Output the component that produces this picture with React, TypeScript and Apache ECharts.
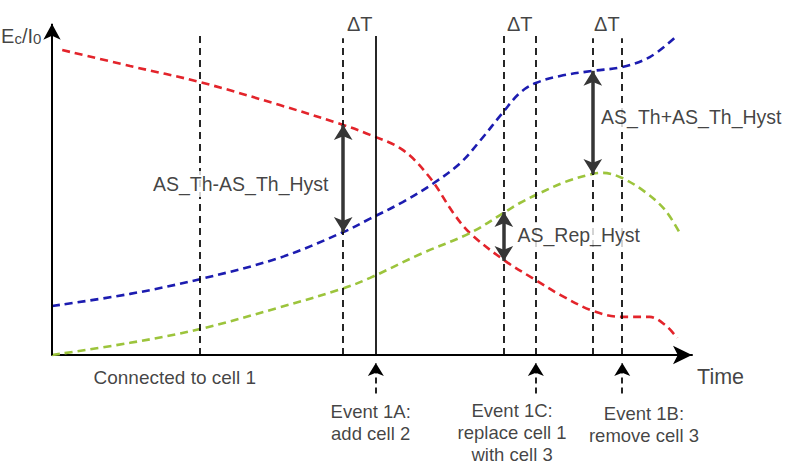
import React, { useEffect, useRef } from "react";
import * as echarts from "echarts";

// Curves: [time, Ec/I0] in arbitrary units (time 0–100, level 0–100)
const cell1Curve: [number, number][] = [
  [1.6, 95.3], [12.2, 90.3], [23.1, 85.3], [35.6, 78.1], [45.5, 71.9], [49.7, 68.8],
  [54.8, 64.1], [59.1, 55.3], [62.7, 44.4], [65.3, 38.1], [70.8, 29.4], [75.6, 23.4],
  [79.4, 18.8], [84.5, 13.8], [89.1, 11.9], [93.4, 11.9], [95.8, 9.4], [97.7, 5.3],
];
const cell2Curve: [number, number][] = [
  [0, 15.3], [12.2, 19.1], [23.1, 23.7], [35.6, 30.4], [45.5, 38.4], [49.7, 42.6],
  [54.8, 47.8], [59.5, 53.5], [63.8, 60.0], [66.9, 67.0], [70.5, 75.9], [73.1, 81.9],
  [75.6, 85.0], [79.4, 87.2], [84.5, 88.8], [89.1, 90.0], [93.4, 93.1], [97.3, 99.1],
];
const cell3Curve: [number, number][] = [
  [0, 0], [12.2, 3.8], [23.1, 8.1], [35.6, 14.9], [45.5, 20.8], [49.7, 24.1],
  [57.5, 31.5], [65.3, 38.1], [70.8, 44.7], [73.1, 47.5], [75.6, 50.0], [80.2, 54.1],
  [84.5, 56.6], [86.1, 56.9], [89.1, 55.3], [92.7, 50.9], [95.8, 45.3], [98.1, 38.1],
];

// Vertical guide lines (time, top level, solid?)
const guideTimes = [23.1, 45.5, 50.6, 70.6, 75.6, 84.5, 89.1];
const guideTops = [100, 99, 99.7, 99.7, 99.7, 99, 99];
const guideSolid = [false, false, true, false, false, false, false];

// ΔT windows
const deltaTText = "ΔT";
const deltaTTimes = [48.1, 73.1, 86.7];
const deltaTLevel = 103.4;

// Hysteresis double arrows
const hystTimes = [45.5, 70.6, 84.5];
const hystTop = [71.9, 44.7, 88.8];
const hystBottom = [38.4, 29.4, 56.6];
const hystLabels = ["AS_Th-AS_Th_Hyst", "AS_Rep_Hyst", "AS_Th+AS_Th_Hyst"];
const hystLabelTimes = [29.5, 82.3, 99.9];
const hystLabelLevels = [53.4, 37.5, 74.4];

// Events below the time axis
const eventTimes = [50.6, 75.6, 89.1];
const eventArrowFrom = -12;
const eventArrowTo = -2.5;
const eventLabels = ["Event 1A:\nadd cell 2", "Event 1C:\nreplace cell 1\nwith cell 3", "Event 1B:\nremove cell 3"];
const eventLabelTimes = [49.8, 71.9, 92.5];
const eventLabelLevels = [-21.2, -24.2, -21.8];

const phaseLabel = "Connected to cell 1";
const phaseLabelPos: [number, number] = [19.2, -7.2];
const xName = "Time";
const xNamePos: [number, number] = [100.8, -6.9];
const yNamePos: [number, number] = [-4.8, 100];
const yAxisTop = 103.5;

const FONT = "'Liberation Sans', Arial, sans-serif";

export default function App() {
  const ref = useRef<HTMLDivElement>(null);
  useEffect(() => {
    if (!ref.current) return;
    const chart = echarts.init(ref.current, undefined, { renderer: "svg" });

    const curve = (name: string, data: [number, number][], color: string) => ({
      name,
      type: "line",
      data,
      smooth: 0.35,
      symbol: "none",
      clip: false,
      z: 3,
      lineStyle: { color, width: 2.6, type: [8, 5] },
    });

    const txt = (t: number, v: number, text: string, style: any) => ({
      value: [t, v],
      label: {
        show: true,
        position: [0, 0],
        formatter: text,
        color: "#111",
        fontFamily: FONT,
        align: "center",
        verticalAlign: "middle",
        ...style,
      },
    });

    const labelData: any[] = [];
    deltaTTimes.forEach((t) => labelData.push(txt(t, deltaTLevel, deltaTText, { fontSize: 20 })));
    hystLabels.forEach((s, i) =>
      labelData.push(
        txt(hystLabelTimes[i], hystLabelLevels[i], s, {
          fontSize: 19.5,
          backgroundColor: "#fff",
          padding: [3, 2],
        })
      )
    );
    eventLabels.forEach((s, i) =>
      labelData.push(txt(eventLabelTimes[i], eventLabelLevels[i], s, { fontSize: 18.5, lineHeight: 22 }))
    );
    labelData.push(txt(phaseLabelPos[0], phaseLabelPos[1], phaseLabel, { fontSize: 19 }));
    labelData.push(txt(xNamePos[0], xNamePos[1], xName, { fontSize: 21.5, align: "left" }));
    labelData.push(
      txt(yNamePos[0], yNamePos[1], "{n|E}{s|c}{n|/I}{s|0}", {
        rich: {
          n: { fontSize: 20, lineHeight: 22, verticalAlign: "bottom", fontFamily: FONT, color: "#111" },
          s: { fontSize: 15, lineHeight: 22, verticalAlign: "bottom", fontFamily: FONT, color: "#111" },
        },
      })
    );

    const option: any = {
      animation: false,
      grid: { left: 52, width: 640, top: 19, height: 432 },
      xAxis: {
        type: "value",
        min: 0,
        max: 100,
        axisLine: {
          onZero: true,
          lineStyle: { color: "#000", width: 2 },
          symbol: ["none", "arrow"],
          symbolSize: [14, 19],
        },
        axisTick: { show: false },
        axisLabel: { show: false },
        splitLine: { show: false },
      },
      yAxis: {
        type: "value",
        min: -30,
        max: 105,
        axisLine: { show: false },
        axisTick: { show: false },
        axisLabel: { show: false },
        splitLine: { show: false },
      },
      series: [
        {
          name: "guides",
          type: "line",
          data: [],
          clip: false,
          z: 2,
          markLine: {
            silent: true,
            symbol: "none",
            label: { show: false },
            data: guideTimes.map((t, i) => [
              {
                coord: [t, 0],
                lineStyle: { color: "#000", width: 1.7, type: guideSolid[i] ? "solid" : [7, 5] },
              },
              { coord: [t, guideTops[i]] },
            ]),
          },
        },
        {
          name: "yaxis",
          type: "line",
          data: [],
          clip: false,
          z: 2,
          markLine: {
            silent: true,
            symbol: ["none", "arrow"],
            symbolSize: [13, 16],
            label: { show: false },
            lineStyle: { color: "#000", width: 2, type: "solid" },
            data: [[{ coord: [0, 0] }, { coord: [0, yAxisTop] }]],
          },
        },
        curve("cell 1", cell1Curve, "#e3242b"),
        curve("cell 2", cell2Curve, "#1c1cb0"),
        curve("cell 3", cell3Curve, "#9cc43c"),
        {
          name: "hyst",
          type: "line",
          data: [],
          clip: false,
          z: 4,
          markLine: {
            silent: true,
            symbol: ["arrow", "arrow"],
            symbolSize: [14, 15],
            label: { show: false },
            lineStyle: { color: "#363636", width: 3.5, type: "solid" },
            data: hystTimes.map((t, i) => [{ coord: [t, hystTop[i]] }, { coord: [t, hystBottom[i]] }]),
          },
        },
        {
          name: "events",
          type: "line",
          data: [],
          clip: false,
          z: 4,
          markLine: {
            silent: true,
            symbol: ["none", "arrow"],
            symbolSize: [12, 13],
            label: { show: false },
            lineStyle: { color: "#000", width: 1.7, type: [6, 4] },
            data: eventTimes.map((t) => [{ coord: [t, eventArrowFrom] }, { coord: [t, eventArrowTo] }]),
          },
        },
        {
          name: "labels",
          type: "scatter",
          data: labelData,
          symbolSize: 0.1,
          clip: false,
          z: 10,
          itemStyle: { color: "rgba(0,0,0,0)" },
        },
      ],
    };
    chart.setOption(option);
    return () => chart.dispose();
  }, []);
  return <div ref={ref} style={{ position: "absolute", left: 0, top: 0, width: 786, height: 466 }} />;
}
